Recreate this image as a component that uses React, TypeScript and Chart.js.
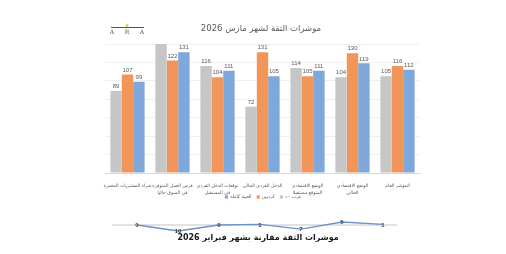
import React, { useEffect, useRef } from "react";
import { Chart, registerables } from "chart.js";

Chart.register(...registerables);

const TITLE = "موشرات الثقة لشهر مارس 2026";
const SUBTITLE = "موشرات الثقة مقارنة بشهر فبراير 2026";

const categories: string[][] = [
  ["شراء المشتريات المعمرة"],
  ["فرص العمل المتوفرة", "في السوق حاليا"],
  ["توقعات الدخل الفردي", "في المستقبل"],
  ["الدخل الفردي الحالي"],
  ["الوضع الاقتصادي", "المتوقع مستقبلا"],
  ["الوضع الاقتصادي", "الحالي"],
  ["المؤشر العام"],
];

const seriesNames = ["عرب - د", "كرديين", "العينة كاملة"];
const arabValues = [89, 140, 116, 72, 114, 104, 105];
const kurdValues = [107, 122, 104, 131, 105, 130, 116];
const totalValues = [99, 131, 111, 105, 111, 119, 112];
const seriesColors = ["#c6c6c6", "#f19558", "#7ea7dc"];

const changeValues = [0, -10, 0, 1, -7, 5, 1];

const Y_MAX = 140;
const AR_FONT = "'DejaVu Sans', sans-serif";

export default function App() {
  const barRef = useRef<HTMLCanvasElement>(null);
  const lineRef = useRef<HTMLCanvasElement>(null);

  useEffect(() => {
    const barLabels = {
      id: "barLabels",
      afterDatasetsDraw(chart: any) {
        const ctx = chart.ctx;
        ctx.save();
        ctx.font = "6px 'Liberation Sans', sans-serif";
        ctx.fillStyle = "#595959";
        ctx.textAlign = "center";
        ctx.textBaseline = "bottom";
        chart.data.datasets.forEach((ds: any, di: number) => {
          const meta = chart.getDatasetMeta(di);
          meta.data.forEach((el: any, i: number) => {
            const v = ds.data[i];
            if (v >= Y_MAX) return;
            ctx.fillText(String(v), el.x, el.y - 1.5);
          });
        });
        ctx.restore();
      },
    };

    const decor = {
      id: "decor",
      afterDraw(chart: any) {
        const ctx = chart.ctx;
        ctx.save();
        // title
        ctx.font = `8.5px ${AR_FONT}`;
        ctx.fillStyle = "#595959";
        ctx.textAlign = "center";
        ctx.textBaseline = "middle";
        ctx.fillText(TITLE, 261, 29);
        // logo
        ctx.strokeStyle = "#555";
        ctx.lineWidth = 1;
        ctx.beginPath();
        ctx.moveTo(111, 27.5);
        ctx.lineTo(144, 27.5);
        ctx.stroke();
        ctx.fillStyle = "#e8d23a";
        ctx.beginPath();
        ctx.arc(127, 25.5, 1.5, 0, Math.PI * 2);
        ctx.fill();
        ctx.fillStyle = "#444";
        ctx.font = "6px 'DejaVu Serif', serif";
        ctx.fillText("A", 112, 32);
        ctx.fillText("R", 127, 32);
        ctx.fillText("A", 142, 32);
        // legend (reversed order, box left of text)
        ctx.font = `4.6px ${AR_FONT}`;
        ctx.textAlign = "left";
        const order = [2, 1, 0];
        const box = 3.2;
        const gap = 2;
        const spacing = 5;
        const widths = order.map((i) => box + gap + ctx.measureText(seriesNames[i]).width);
        const total = widths.reduce((a, b) => a + b, 0) + spacing * (order.length - 1);
        let x = 263 - total / 2;
        const y = 197;
        order.forEach((i, k) => {
          ctx.fillStyle = seriesColors[i];
          ctx.fillRect(x, y - box / 2, box, box);
          ctx.fillStyle = "#595959";
          ctx.fillText(seriesNames[i], x + box + gap, y);
          x += widths[k] + spacing;
        });
        ctx.restore();
      },
    };

    const bar = new Chart(barRef.current!, {
      type: "bar",
      data: {
        labels: categories,
        datasets: [arabValues, kurdValues, totalValues].map((d, i) => ({
          label: seriesNames[i],
          data: d,
          backgroundColor: seriesColors[i],
          borderWidth: 0,
          categoryPercentage: 0.76,
          barPercentage: 1.0,
          clip: false as any,
        })),
      },
      options: {
        responsive: false,
        animation: false,
        devicePixelRatio: 1,
        layout: { padding: { left: 105, right: 86, top: 44, bottom: 55 } },
        plugins: { legend: { display: false }, tooltip: { enabled: false } },
        scales: {
          x: {
            grid: { display: false },
            border: { color: "#d9d9d9", width: 1 },
            ticks: {
              color: "#595959",
              font: { size: 4.6, family: AR_FONT, lineHeight: 1.4 },
              padding: 2,
              maxRotation: 0,
              autoSkip: false,
            },
            afterFit: (s: any) => {
              s.height = 26;
            },
          },
          y: {
            min: 0,
            max: Y_MAX,
            ticks: { display: false, stepSize: 20 },
            grid: { color: "#f0f0f0", drawTicks: false },
            border: { display: false },
          },
        },
      },
      plugins: [barLabels, decor],
    });

    const lineDecor = {
      id: "lineDecor",
      beforeDatasetsDraw(chart: any) {
        const ctx = chart.ctx;
        const y0 = chart.scales.y.getPixelForValue(0);
        ctx.save();
        ctx.strokeStyle = "#d9d9d9";
        ctx.lineWidth = 1.5;
        ctx.beginPath();
        ctx.moveTo(112, y0);
        ctx.lineTo(397, y0);
        ctx.stroke();
        ctx.restore();
      },
      afterDatasetsDraw(chart: any) {
        const ctx = chart.ctx;
        ctx.save();
        const meta = chart.getDatasetMeta(0);
        ctx.font = "bold 6px 'Liberation Sans', sans-serif";
        ctx.fillStyle = "#404040";
        ctx.textAlign = "center";
        ctx.textBaseline = "middle";
        meta.data.forEach((el: any, i: number) => {
          ctx.fillText(String(Math.abs(changeValues[i])), el.x, el.y + 0.5);
        });
        ctx.font = `bold 8px ${AR_FONT}`;
        ctx.fillStyle = "#1a1a1a";
        ctx.fillText(SUBTITLE, 258, 238);
        ctx.restore();
      },
    };

    const line = new Chart(lineRef.current!, {
      type: "line",
      data: {
        labels: changeValues.map((_, i) => String(i + 1)),
        datasets: [
          {
            data: changeValues,
            borderColor: "#6a93c6",
            borderWidth: 1.3,
            pointRadius: 0,
            tension: 0,
          },
        ],
      },
      options: {
        responsive: false,
        animation: false,
        devicePixelRatio: 1,
        layout: { padding: { left: 137, right: 123, top: 219, bottom: 20 } },
        plugins: { legend: { display: false }, tooltip: { enabled: false } },
        scales: {
          x: { display: false, offset: false },
          y: { display: false, min: -15, max: 10 },
        },
      },
      plugins: [lineDecor],
    });

    return () => {
      bar.destroy();
      line.destroy();
    };
  }, []);

  return (
    <div
      style={{
        position: "fixed",
        left: 0,
        top: 0,
        width: 506,
        height: 254,
        background: "#ffffff",
      }}
    >
      <canvas
        ref={barRef}
        width={506}
        height={254}
        style={{ position: "absolute", left: 0, top: 0, width: 506, height: 254 }}
      />
      <canvas
        ref={lineRef}
        width={506}
        height={254}
        style={{ position: "absolute", left: 0, top: 0, width: 506, height: 254 }}
      />
    </div>
  );
}
